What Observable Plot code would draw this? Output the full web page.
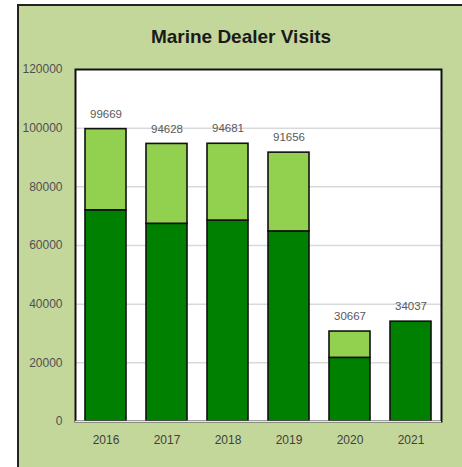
<!DOCTYPE html>
<html>
<head>
<meta charset="utf-8">
<script src="https://cdn.jsdelivr.net/npm/d3@7"></script>
<script src="https://cdn.jsdelivr.net/npm/@observablehq/plot@0.6"></script>
<style>
  html, body { margin: 0; padding: 0; background: #ffffff; }
  #wrap { position: relative; width: 462px; height: 467px; overflow: hidden; font-family: "Liberation Sans", Arial, sans-serif; }
  #panel { position: absolute; left: 17px; top: 4px; right: -4px; bottom: -4px; background: #c4d79b; border-top: 2px solid #222; border-left: 2px solid #222; }
  #title { position: absolute; left: 0; width: 482px; top: 26px; text-align: center; font-weight: bold; font-size: 19px; color: #1a1a1a; }
  #chart { position: absolute; left: 0; top: 0; }
</style>
</head>
<body>
<div id="wrap">
  <div id="panel"></div>
  <div id="title">Marine Dealer Visits</div>
  <div id="chart"></div>
</div>
<script>
const years = ["2016", "2017", "2018", "2019", "2020", "2021"];
const totals = [99669, 94628, 94681, 91656, 30667, 34037];
const lowerPart = [72000, 67400, 68500, 64800, 21700, 34037];
const yTicks = [0, 20000, 40000, 60000, 80000, 100000, 120000];

const stacked = [];
years.forEach((y, i) => {
  stacked.push({year: y, part: "Lower", value: lowerPart[i]});
  const up = totals[i] - lowerPart[i];
  if (up > 0) stacked.push({year: y, part: "Upper", value: up});
});
const totalRows = years.map((y, i) => ({year: y, total: totals[i]}));

const chart = Plot.plot({
  width: 462,
  height: 467,
  marginLeft: 75,
  marginRight: 21,
  marginTop: 69,
  marginBottom: 46,
  style: {fontFamily: "Liberation Sans, Arial, sans-serif", fontSize: "12px", color: "#595959", background: "transparent"},
  x: {domain: years, paddingInner: 0.33, paddingOuter: 0.165, label: null},
  y: {domain: [0, 120000], label: null},
  color: {domain: ["Lower", "Upper"], range: ["#008000", "#92d050"]},
  marks: [
    Plot.frame({fill: "white", stroke: null}),
    Plot.gridY(yTicks.slice(1, -1), {stroke: "#d9d9d9", strokeOpacity: 1, strokeWidth: 1.5}),
    Plot.barY(stacked, {x: "year", y: "value", fill: "part", stroke: "#111", strokeWidth: 1.6, order: ["Lower", "Upper"]}),
    Plot.frame({stroke: "#111", strokeWidth: 2, fill: null}),
    Plot.ruleY([0], {stroke: "#e6e6e6", strokeWidth: 1.5}),
    Plot.text(totalRows, {x: "year", y: "total", text: d => String(d.total), dy: -15, fill: "#595959", fontSize: 11.5}),
    Plot.axisY({ticks: yTicks, tickSize: 0, tickPadding: 13, tickFormat: d => String(d), label: null, fill: "#505050"}),
    Plot.axisX({tickSize: 0, tickPadding: 14, label: null, fill: "#404040"})
  ]
});
document.getElementById("chart").appendChild(chart);
</script>
</body>
</html>
